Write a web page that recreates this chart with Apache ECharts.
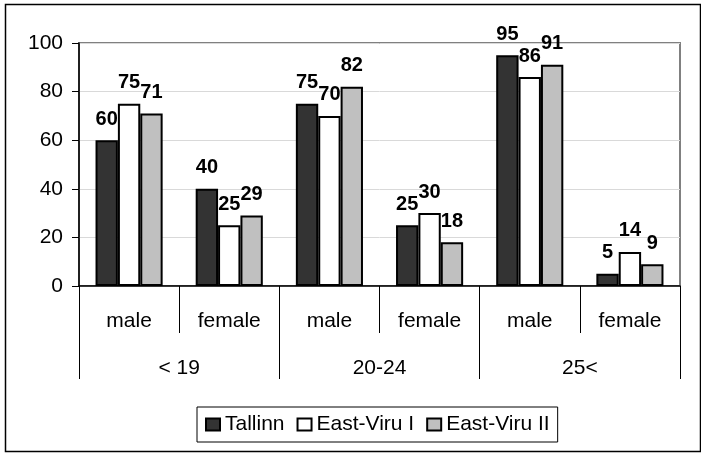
<!DOCTYPE html>
<html>
<head>
<meta charset="utf-8">
<script src="https://cdn.jsdelivr.net/npm/echarts@6/dist/echarts.min.js"></script>
<style>html,body{margin:0;padding:0;background:#fff;}#c{width:701px;height:453px;}</style>
</head>
<body>
<div id="c"></div>
<script>
const subCategories = ['male', 'female', 'male', 'female', 'male', 'female'];
const groupCategories = ['< 19', '20-24', '25<'];
const seriesNames = ['Tallinn', 'East-Viru I', 'East-Viru II'];
const tallinn = [60, 40, 75, 25, 95, 5];
const eastViru1 = [75, 25, 70, 30, 86, 14];
const eastViru2 = [71, 29, 82, 18, 91, 9];
const yTicks = [0, 20, 40, 60, 80, 100];

const FONT = 'Liberation Sans, Arial, sans-serif';
const colors = ['#333333', '#ffffff', '#c0c0c0'];
const values = [tallinn, eastViru1, eastViru2];

const chart = echarts.init(document.getElementById('c'));
chart.setOption({
  animation: false,
  textStyle: { fontFamily: FONT, color: '#000' },
  graphic: [{
    type: 'rect', left: 3, top: 2, shape: { width: 695, height: 447 },
    style: { fill: 'none', stroke: '#000', lineWidth: 1.5 }, silent: true
  }],
  grid: {
    left: 79, right: 21, top: 43, bottom: 167,
    show: true, borderColor: '#808080', borderWidth: 2, backgroundColor: 'transparent'
  },
  legend: {
    data: seriesNames,
    left: 197, top: 407,
    orient: 'horizontal',
    borderColor: '#000', borderWidth: 1,
    padding: [7, 8],
    itemWidth: 14, itemHeight: 12, itemGap: 12,
    textStyle: { fontFamily: FONT, fontSize: 21, color: '#000' },
    icon: 'rect'
  },
  xAxis: [{
    type: 'category', position: 'bottom', data: subCategories,
    axisLine: { show: true, lineStyle: { color: '#000', width: 1.5 } },
    axisTick: { show: true, inside: false, interval: 0, alignWithLabel: false, length: 47, lineStyle: { color: '#000', width: 1 } },
    axisLabel: { interval: 0, margin: 25, fontSize: 21, color: '#000', fontFamily: FONT }
  }, {
    type: 'category', position: 'bottom', data: groupCategories,
    axisLine: { show: false },
    axisTick: { show: true, inside: false, interval: 0, alignWithLabel: false, length: 93, lineStyle: { color: '#000', width: 1 } },
    axisLabel: { interval: 0, margin: 72, fontSize: 21, color: '#000', fontFamily: FONT }
  }],
  yAxis: {
    type: 'value', min: 0, max: 100, interval: 20,
    axisLine: { show: true, lineStyle: { color: '#000', width: 1.5 } },
    axisTick: { show: true, inside: false, length: 7, lineStyle: { color: '#000', width: 1 } },
    axisLabel: { margin: 16, fontSize: 21, color: '#000', fontFamily: FONT,
      formatter: v => yTicks.includes(v) ? String(v) : '' },
    splitLine: { show: true, lineStyle: { color: '#d9d9d9', width: 1 } }
  },
  series: seriesNames.map((name, i) => ({
    name, type: 'bar', xAxisIndex: 0,
    data: values[i],
    barGap: '0%', barCategoryGap: '33%',
    itemStyle: { color: colors[i], borderColor: '#000', borderWidth: 2 },
    label: { show: true, position: 'top', distance: 11, fontSize: 20, fontWeight: 'bold',
      color: '#000', fontFamily: FONT }
  }))
});
</script>
</body>
</html>
